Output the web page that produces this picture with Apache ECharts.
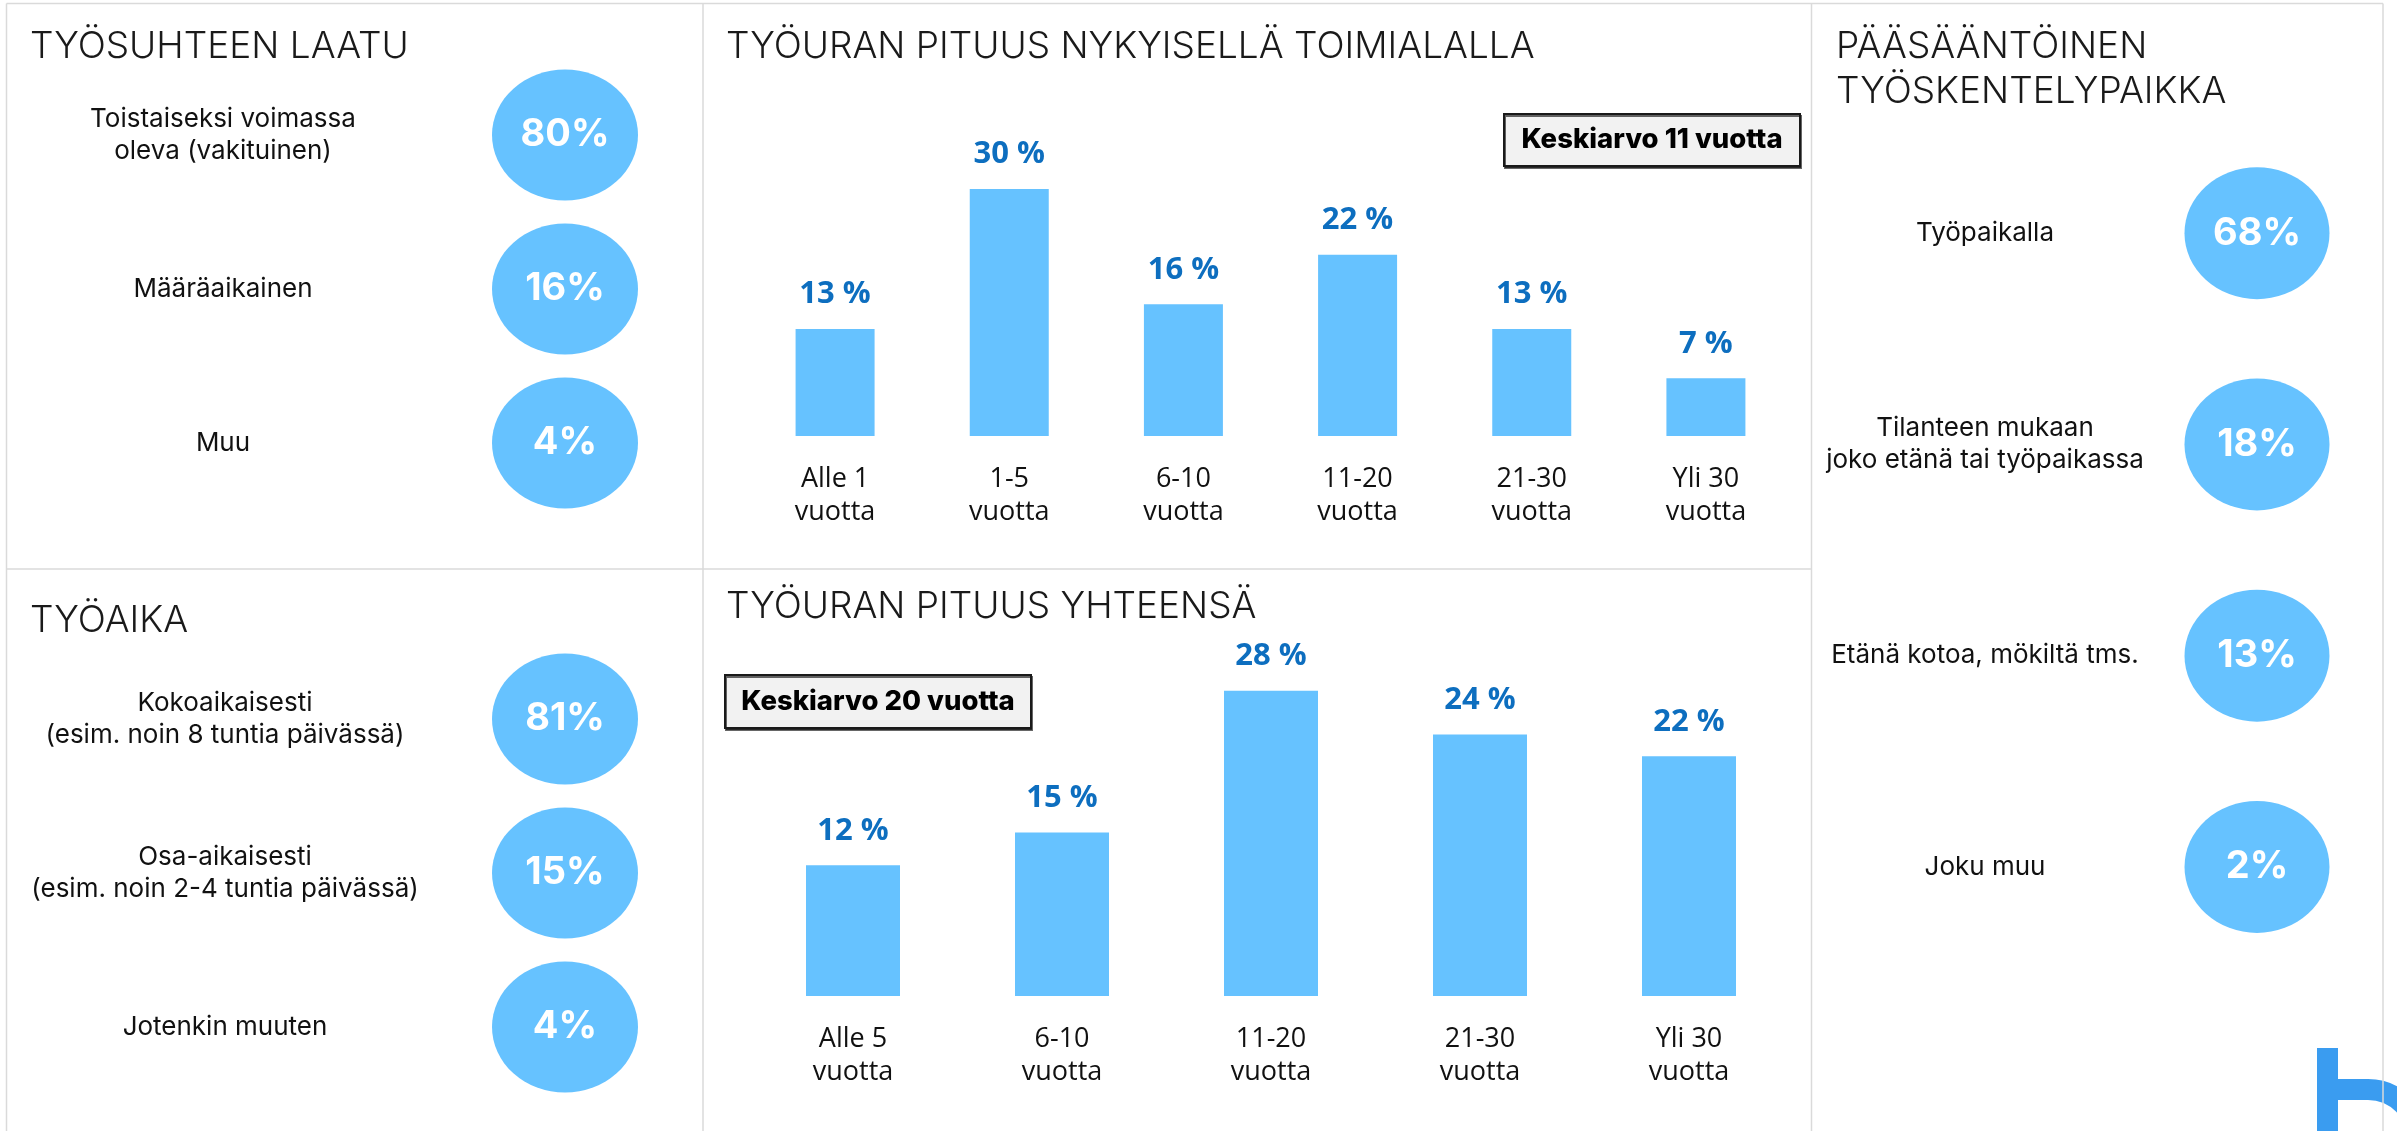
<!DOCTYPE html>
<html>
<head>
<meta charset="utf-8">
<script src="https://cdn.jsdelivr.net/npm/echarts@6/dist/echarts.min.js"></script>
<style>
  html, body { margin: 0; padding: 0; background: #fff; }
  #myChart { width: 2397px; height: 1131px; }
</style>
</head>
<body>
<div id="myChart"></div>
<script>
// työsuhteen laatu
const laatuLabels = ["Toistaiseksi voimassa\noleva (vakituinen)", "Määräaikainen", "Muu"];
const laatuValues = [80, 16, 4];
// työaika
const aikaLabels = ["Kokoaikaisesti\n(esim. noin 8 tuntia päivässä)", "Osa-aikaisesti\n(esim. noin 2-4 tuntia päivässä)", "Jotenkin muuten"];
const aikaValues = [81, 15, 4];
// pääsääntöinen työskentelypaikka
const paikkaLabels = ["Työpaikalla", "Tilanteen mukaan\njoko etänä tai työpaikassa", "Etänä kotoa, mökiltä tms.", "Joku muu"];
const paikkaValues = [68, 18, 13, 2];
// työuran pituus nykyisellä toimialalla
const toimialaCats = ["Alle 1\nvuotta", "1-5\nvuotta", "6-10\nvuotta", "11-20\nvuotta", "21-30\nvuotta", "Yli 30\nvuotta"];
const toimialaValues = [13, 30, 16, 22, 13, 7];
// työuran pituus yhteensä
const yhteensaCats = ["Alle 5\nvuotta", "6-10\nvuotta", "11-20\nvuotta", "21-30\nvuotta", "Yli 30\nvuotta"];
const yhteensaValues = [12, 15, 28, 24, 22];
const keskiarvot = ["Keskiarvo 11 vuotta", "Keskiarvo 20 vuotta"];

const blue = "#66c2ff";
const lineColor = "#dadada";

let myChart = echarts.init(document.getElementById("myChart"));

const titleStyle = {
  fontFamily: "Inter",
  fontWeight: 300,
  fontSize: 37,
  color: "#1a1a1a",
  lineHeight: 45,
};

// ympyräpaneelien akselit
function bubbleY(labels, idx, margin) {
  return {
    type: "category",
    gridIndex: idx,
    data: labels,
    inverse: true,
    axisLine: { show: false },
    axisTick: { show: false },
    axisLabel: {
      margin: margin,
      align: "center",
      fontFamily: "Inter",
      fontSize: 26,
      lineHeight: 32,
      color: "#111",
    },
  };
}
function bubbleSeries(values, idx, size) {
  return {
    type: "scatter",
    xAxisIndex: idx,
    yAxisIndex: idx,
    symbol: "circle",
    symbolSize: size,
    data: values.map((v, i) => [0, i, v]),
    itemStyle: { color: blue, opacity: 1 },
    label: {
      show: true,
      position: "inside",
      formatter: (p) => p.value[2] + "%",
      color: "#fff",
      fontFamily: "Inter",
      fontWeight: 700,
      fontSize: 38,
    },
  };
}
function barX(cats, idx) {
  return {
    type: "category",
    gridIndex: idx,
    data: cats,
    axisLine: { show: false },
    axisTick: { show: false },
    axisLabel: {
      interval: 0,
      margin: 27,
      fontFamily: "Open Sans",
      fontSize: 27,
      lineHeight: 33,
      color: "#111",
    },
  };
}
function barSeries(values, idx, width) {
  return {
    type: "bar",
    xAxisIndex: idx,
    yAxisIndex: idx,
    data: values,
    barWidth: width,
    itemStyle: { color: blue },
    label: {
      show: true,
      position: "top",
      distance: 19,
      formatter: "{c} %",
      color: "#0d6ebf",
      fontFamily: "Open Sans",
      fontWeight: 700,
      fontSize: 31,
    },
  };
}
function keskiarvoBox(text, x, y, w, h) {
  return {
    type: "group",
    x: x,
    y: y,
    children: [
      {
        type: "rect",
        shape: { x: 0, y: 0, width: w, height: h },
        style: {
          fill: "#f2f2f2",
          stroke: "#1a1a1a",
          lineWidth: 2,
          shadowColor: "rgba(0,0,0,0.6)",
          shadowOffsetX: 1,
          shadowOffsetY: 2,
        },
      },
      {
        type: "text",
        x: w / 2,
        y: h / 2,
        style: {
          text: text,
          align: "center",
          verticalAlign: "middle",
          fontFamily: "Inter",
          fontWeight: 800,
          fontSize: 27.5,
          fill: "#000",
        },
      },
    ],
  };
}
function line(x1, y1, x2, y2) {
  return {
    type: "line",
    shape: { x1, y1, x2, y2 },
    style: { stroke: lineColor, lineWidth: 1.5 },
    z: 10,
  };
}

myChart.setOption({
  animation: false,
  backgroundColor: "#fff",
  title: [
    { text: "TYÖSUHTEEN LAATU", left: 30, top: 24, padding: 0, textStyle: titleStyle },
    { text: "TYÖAIKA", left: 30, top: 598, padding: 0, textStyle: titleStyle },
    { text: "TYÖURAN PITUUS NYKYISELLÄ TOIMIALALLA", left: 726, top: 24, padding: 0, textStyle: titleStyle },
    { text: "TYÖURAN PITUUS YHTEENSÄ", left: 726, top: 584, padding: 0, textStyle: titleStyle },
    { text: "PÄÄSÄÄNTÖINEN\nTYÖSKENTELYPAIKKA", left: 1836, top: 24, padding: 0, textStyle: titleStyle },
  ],
  grid: [
    { left: 515, top: 58, width: 100, height: 462, outerBoundsMode: "none" },
    { left: 515, top: 642, width: 100, height: 462, outerBoundsMode: "none" },
    { left: 2207, top: 127.5, width: 100, height: 845, outerBoundsMode: "none" },
    { left: 748, top: 106.6, width: 1045, height: 329.4, outerBoundsMode: "none" },
    { left: 748.5, top: 614.5, width: 1045, height: 381.5, outerBoundsMode: "none" },
  ],
  xAxis: [
    { type: "category", gridIndex: 0, data: [""], show: false },
    { type: "category", gridIndex: 1, data: [""], show: false },
    { type: "category", gridIndex: 2, data: [""], show: false },
    barX(toimialaCats, 3),
    barX(yhteensaCats, 4),
  ],
  yAxis: [
    bubbleY(laatuLabels, 0, 292),
    bubbleY(aikaLabels, 1, 290),
    bubbleY(paikkaLabels, 2, 222),
    { type: "value", gridIndex: 3, min: 0, max: 40, show: false },
    { type: "value", gridIndex: 4, min: 0, max: 35, show: false },
  ],
  series: [
    bubbleSeries(laatuValues, 0, [146, 131]),
    bubbleSeries(aikaValues, 1, [146, 131]),
    bubbleSeries(paikkaValues, 2, [145, 132]),
    barSeries(toimialaValues, 3, 79),
    barSeries(yhteensaValues, 4, 94),
  ],
  graphic: [
    // logo kulmassa
    { type: "rect", shape: { x: 2317, y: 1048, width: 21, height: 90 }, style: { fill: "#3a9cf0" } },
    { type: "rect", shape: { x: 2336, y: 1079, width: 33, height: 21 }, style: { fill: "#3a9cf0" } },
    {
      type: "arc",
      shape: { cx: 2368, cy: 1139.5, r: 50, startAngle: -Math.PI / 2, endAngle: 0 },
      style: { stroke: "#3a9cf0", lineWidth: 21, fill: null },
    },
    keskiarvoBox(keskiarvot[0], 1504, 114, 296, 52),
    keskiarvoBox(keskiarvot[1], 725, 675, 306, 53),
    // paneelien reunat
    line(6.5, 3.5, 2383, 3.5),
    line(6.5, 3.5, 6.5, 1131),
    line(703, 3.5, 703, 1131),
    line(1811.5, 3.5, 1811.5, 1131),
    line(2383, 3.5, 2383, 1131),
    line(6.5, 569, 1811.5, 569),
  ],
});
</script>
</body>
</html>
